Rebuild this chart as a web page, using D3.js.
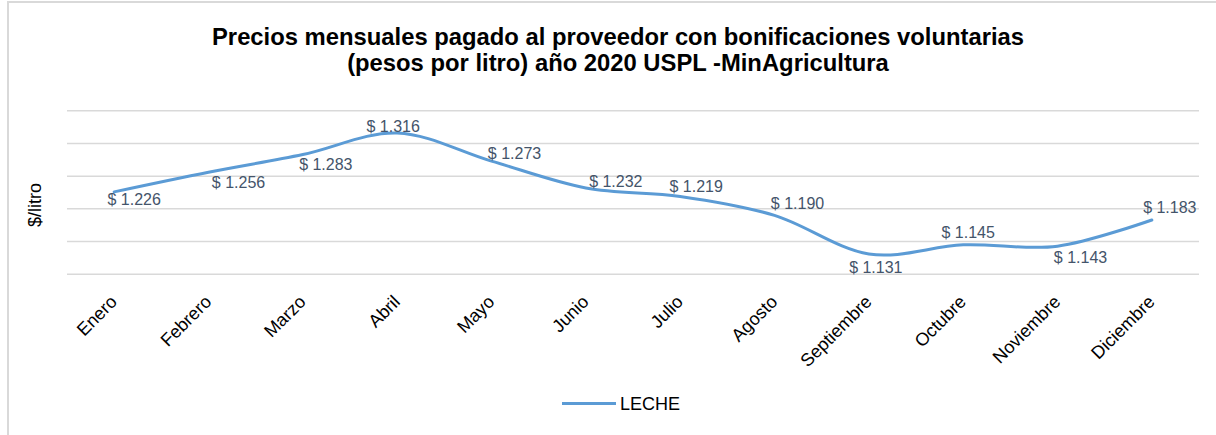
<!DOCTYPE html>
<html>
<head>
<meta charset="utf-8">
<script src="https://cdn.jsdelivr.net/npm/d3@7"></script>
<style>
  body { margin: 0; background: #fff; }
  text { font-family: "Liberation Sans", Arial, sans-serif; }
</style>
</head>
<body>
<div id="chart"></div>
<script>
// data
const months = ["Enero", "Febrero", "Marzo", "Abril", "Mayo", "Junio", "Julio",
  "Agosto", "Septiembre", "Octubre", "Noviembre", "Diciembre"];
const leche = [1.226, 1.256, 1.283, 1.316, 1.273, 1.232, 1.219, 1.190, 1.131, 1.145, 1.143, 1.183];
const yTicks = [1.10, 1.15, 1.20, 1.25, 1.30, 1.35];
const seriesName = "LECHE";

// label nudges (relative to each point)
const labelDx = [20, 30, 23, -4, 23, 30, 16, 23, 7, 5, 23, 18];
const labelDy = [13, 16, 15.5, -0.6, -2.3, -1.3, -4.2, -6.2, 18.6, -7.2, 16.5, -6.7];

const W = 1216, H = 435;
const plot = {left: 67, right: 1199, top: 110.7, bottom: 274.3};

const svg = d3.select("#chart").append("svg")
  .attr("width", W)
  .attr("height", H);

// chart frame (only top and left edge visible)
svg.append("rect")
  .attr("x", 8).attr("y", 2)
  .attr("width", W + 20).attr("height", H + 20)
  .attr("fill", "none")
  .attr("stroke", "#d9d9d9")
  .attr("stroke-width", 2);

// title
const title = svg.append("text")
  .attr("text-anchor", "middle")
  .attr("font-weight", "bold")
  .attr("font-size", 23.8)
  .attr("fill", "#000");
title.append("tspan").attr("x", 618).attr("y", 45)
  .text("Precios mensuales pagado al proveedor con bonificaciones voluntarias");
title.append("tspan").attr("x", 618).attr("y", 71)
  .text("(pesos por litro) año 2020 USPL -MinAgricultura");

const x = d3.scalePoint()
  .domain(months)
  .range([plot.left, plot.right])
  .padding(0.5);

const y = d3.scaleLinear()
  .domain([1.10, 1.35])
  .range([plot.bottom, plot.top]);

// gridlines
svg.append("g")
  .selectAll("line")
  .data(yTicks)
  .join("line")
  .attr("x1", plot.left)
  .attr("x2", plot.right)
  .attr("y1", d => y(d))
  .attr("y2", d => y(d))
  .attr("stroke", "#d9d9d9")
  .attr("stroke-width", 1.5);

// y axis title
svg.append("text")
  .attr("transform", "translate(41, 205) rotate(-90)")
  .attr("text-anchor", "middle")
  .attr("font-size", 18)
  .attr("fill", "#000")
  .text("$/litro");

// x labels
svg.append("g")
  .selectAll("text")
  .data(months)
  .join("text")
  .attr("transform", d => `translate(${x(d) + 4}, ${303}) rotate(-45)`)
  .attr("text-anchor", "end")
  .attr("font-size", 18)
  .attr("fill", "#000")
  .text(d => d);

// line
const line = d3.line()
  .x((d, i) => x(months[i]))
  .y(d => y(d))
  .curve(d3.curveCatmullRom.alpha(0));

svg.append("path")
  .datum(leche)
  .attr("d", line)
  .attr("fill", "none")
  .attr("stroke", "#5b9bd5")
  .attr("stroke-width", 3)
  .attr("stroke-linecap", "round");

// data labels
const fmt = d => "$ " + d3.format(".3f")(d);
svg.append("g")
  .selectAll("text")
  .data(leche)
  .join("text")
  .attr("x", (d, i) => x(months[i]) + labelDx[i])
  .attr("y", (d, i) => y(d) + labelDy[i])
  .attr("text-anchor", "middle")
  .attr("font-size", 16)
  .attr("fill", "#44546a")
  .text(fmt);

// legend
const lg = svg.append("g").attr("transform", "translate(562, 403.5)");
lg.append("line")
  .attr("x1", 0).attr("x2", 54)
  .attr("stroke", "#5b9bd5")
  .attr("stroke-width", 3);
lg.append("text")
  .attr("x", 58).attr("y", 6.5)
  .attr("font-size", 18)
  .attr("fill", "#000")
  .text(seriesName);
</script>
</body>
</html>
